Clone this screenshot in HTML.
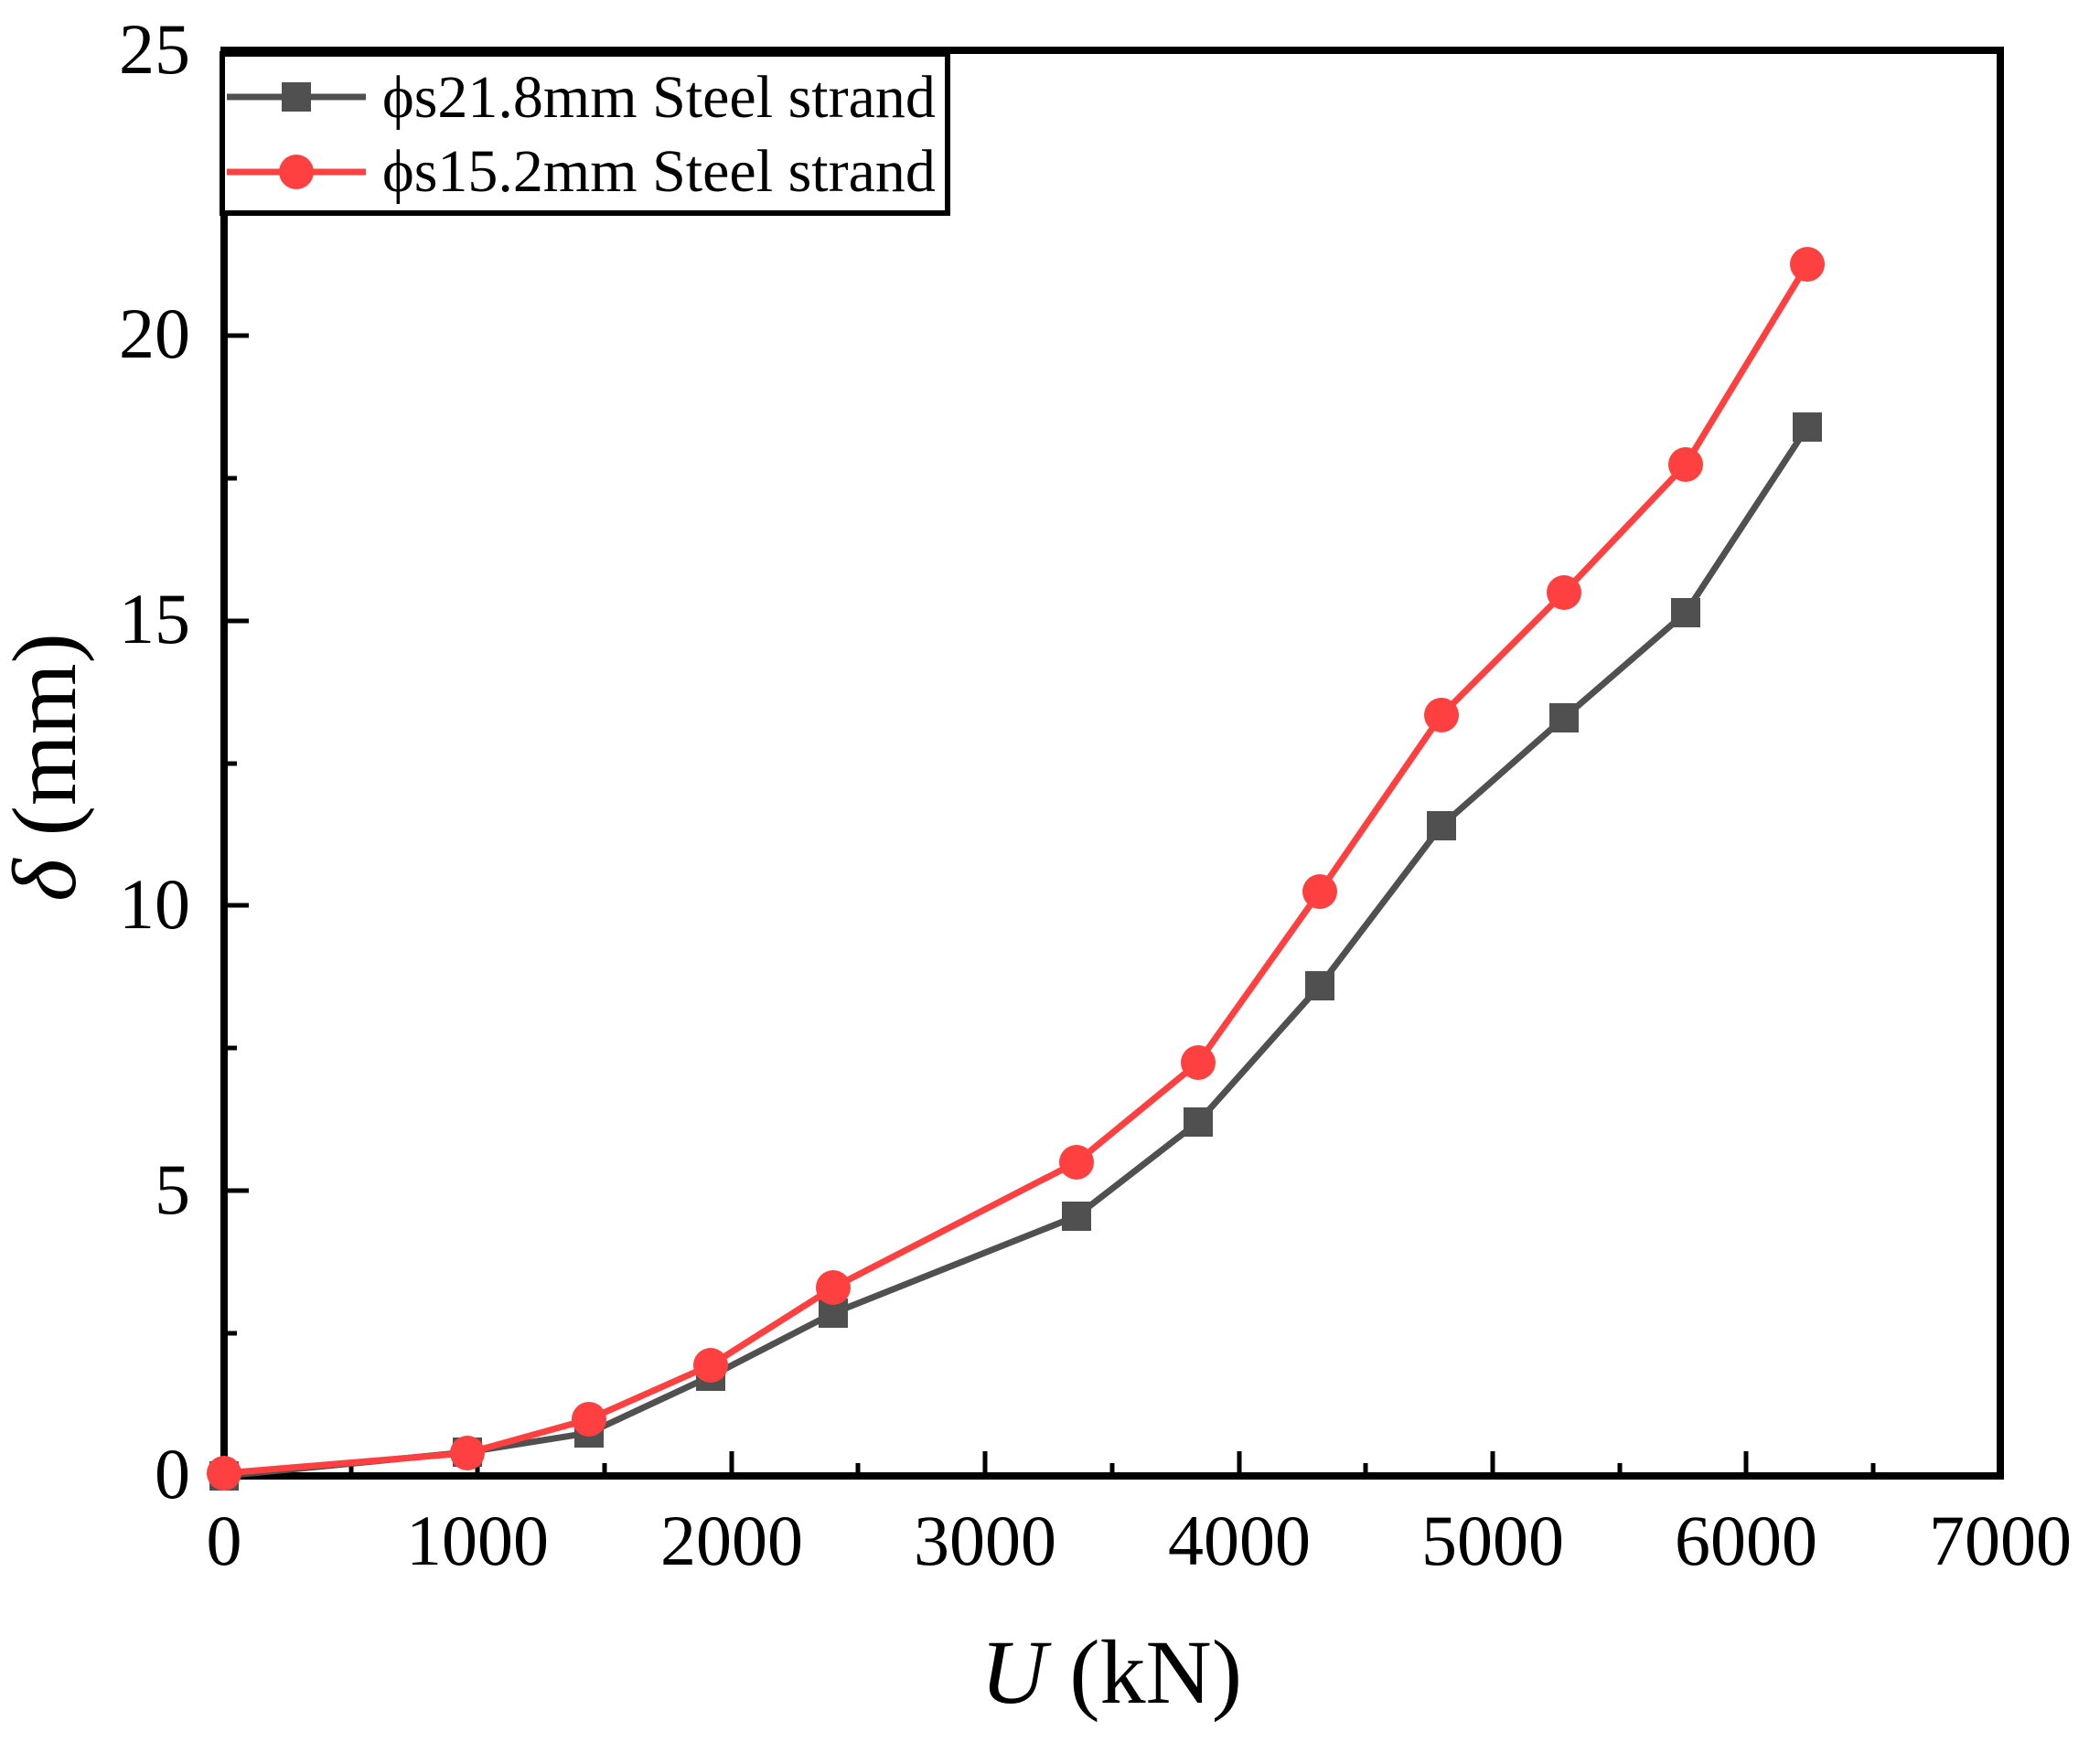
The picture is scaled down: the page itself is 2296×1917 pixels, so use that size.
<!DOCTYPE html>
<html><head><meta charset="utf-8"><style>html,body{margin:0;padding:0;background:#fff}</style></head>
<body>
<svg width="2296" height="1912" viewBox="0 0 2296 1912" xmlns="http://www.w3.org/2000/svg" font-family="Liberation Serif, serif">
<rect width="2296" height="1912" fill="#fff"/>
<g stroke="#000" stroke-width="5">
<line x1="245" y1="1614" x2="245" y2="1587"/><line x1="522" y1="1614" x2="522" y2="1587"/><line x1="800" y1="1614" x2="800" y2="1587"/><line x1="1077" y1="1614" x2="1077" y2="1587"/><line x1="1355" y1="1614" x2="1355" y2="1587"/><line x1="1632" y1="1614" x2="1632" y2="1587"/><line x1="1909" y1="1614" x2="1909" y2="1587"/>
<line x1="384" y1="1614" x2="384" y2="1600"/><line x1="661" y1="1614" x2="661" y2="1600"/><line x1="938" y1="1614" x2="938" y2="1600"/><line x1="1216" y1="1614" x2="1216" y2="1600"/><line x1="1493" y1="1614" x2="1493" y2="1600"/><line x1="1771" y1="1614" x2="1771" y2="1600"/><line x1="2048" y1="1614" x2="2048" y2="1600"/>
<line x1="245" y1="1302" x2="272" y2="1302"/><line x1="245" y1="990" x2="272" y2="990"/><line x1="245" y1="679" x2="272" y2="679"/><line x1="245" y1="367" x2="272" y2="367"/>
<line x1="245" y1="1458" x2="259" y2="1458"/><line x1="245" y1="1146" x2="259" y2="1146"/><line x1="245" y1="835" x2="259" y2="835"/><line x1="245" y1="523" x2="259" y2="523"/><line x1="245" y1="211" x2="259" y2="211"/>
</g>
<rect x="245" y="55" width="1942" height="1559" fill="none" stroke="#000" stroke-width="8"/>
<polyline fill="none" stroke="#505050" stroke-width="7" stroke-linejoin="round" points="245,1614 511,1588 644,1567 777,1505 911,1436 1177,1330 1310,1227 1443,1078 1576,903 1710,785 1843,670 1976,467"/>
<g fill="#505050"><rect x="229" y="1598" width="32" height="32"/><rect x="495" y="1572" width="32" height="32"/><rect x="628" y="1551" width="32" height="32"/><rect x="761" y="1489" width="32" height="32"/><rect x="895" y="1420" width="32" height="32"/><rect x="1161" y="1314" width="32" height="32"/><rect x="1294" y="1211" width="32" height="32"/><rect x="1427" y="1062" width="32" height="32"/><rect x="1560" y="887" width="32" height="32"/><rect x="1694" y="769" width="32" height="32"/><rect x="1827" y="654" width="32" height="32"/><rect x="1960" y="451" width="32" height="32"/></g>
<polyline fill="none" stroke="#ff4040" stroke-width="7" stroke-linejoin="round" points="245,1611 511,1589 644,1552 777,1493 911,1408 1177,1271 1310,1162 1443,975 1576,782 1710,648 1843,508 1976,289"/>
<g fill="#ff4040"><circle cx="245" cy="1611" r="19"/><circle cx="511" cy="1589" r="19"/><circle cx="644" cy="1552" r="19"/><circle cx="777" cy="1493" r="19"/><circle cx="911" cy="1408" r="19"/><circle cx="1177" cy="1271" r="19"/><circle cx="1310" cy="1162" r="19"/><circle cx="1443" cy="975" r="19"/><circle cx="1576" cy="782" r="19"/><circle cx="1710" cy="648" r="19"/><circle cx="1843" cy="508" r="19"/><circle cx="1976" cy="289" r="19"/></g>
<g font-size="78" text-anchor="middle">
<text x="245" y="1711">0</text><text x="522" y="1711">1000</text><text x="800" y="1711">2000</text><text x="1077" y="1711">3000</text><text x="1355" y="1711">4000</text><text x="1632" y="1711">5000</text><text x="1909" y="1711">6000</text><text x="2187" y="1711">7000</text>
</g>
<g font-size="78" text-anchor="end">
<text x="208" y="1638">0</text><text x="208" y="1327">5</text><text x="208" y="1015">10</text><text x="208" y="703">15</text><text x="208" y="391">20</text><text x="208" y="80">25</text>
</g>
<text x="1215" y="1862" font-size="100" text-anchor="middle"><tspan font-style="italic">U</tspan> (kN)</text>
<text transform="translate(82,839) rotate(-90)" font-size="100" text-anchor="middle"><tspan font-style="italic">δ</tspan> (mm)</text>
<rect x="243" y="59" width="793" height="174" fill="#fff" stroke="#000" stroke-width="6"/>
<line x1="248" y1="106" x2="400" y2="106" stroke="#505050" stroke-width="7"/>
<rect x="308" y="90" width="32" height="32" fill="#505050"/>
<line x1="248" y1="188" x2="400" y2="188" stroke="#ff4040" stroke-width="7"/>
<circle cx="324" cy="188" r="19" fill="#ff4040"/>
<text x="418" y="128" font-size="66">ϕs21.8mm Steel strand</text>
<text x="418" y="209" font-size="66">ϕs15.2mm Steel strand</text>
</svg>
</body></html>
